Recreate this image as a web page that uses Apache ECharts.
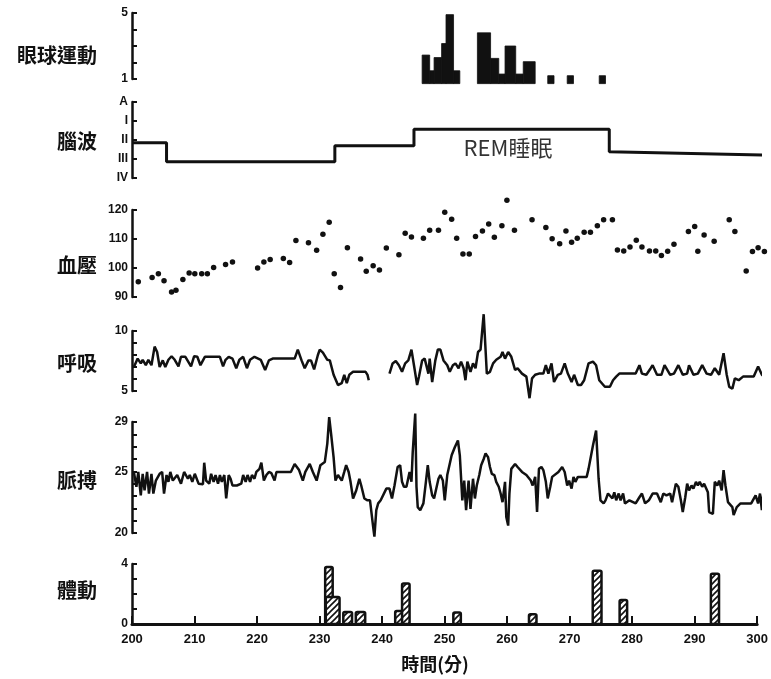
<!DOCTYPE html>
<html>
<head>
<meta charset="utf-8">
<title>睡眠經過</title>
<script src="https://cdn.jsdelivr.net/npm/echarts@6/dist/echarts.min.js"></script>
<style>
  html, body { margin: 0; padding: 0; background: #fff; }
  #chart { width: 771px; height: 679px; }
</style>
</head>
<body>
<div id="chart"></div>
<script>
// panel names, top to bottom
var panelNames = ['眼球運動', '腦波', '血壓', '呼吸', '脈搏', '體動'];
var brainLevels = ['IV', 'III', 'II', 'I', 'A'];   // 0..4 on the y axis
var xTitle = '時間(分)';
var remLabel = 'REM睡眠';

// eye movements: [from min, to min, height]
var eyeBins = [
  [246.2, 247.4, 2.45], [247.4, 248.1, 1.5], [248.1, 249.3, 2.3], [249.3, 250.0, 3.15],
  [250.0, 251.2, 4.9], [251.2, 252.2, 1.5],
  [255.0, 257.1, 3.8], [257.1, 258.4, 2.25], [258.4, 259.4, 1.3], [259.4, 261.1, 3.0],
  [261.1, 262.3, 1.3], [262.3, 264.2, 2.05],
  [266.2, 267.2, 1.2], [269.3, 270.3, 1.2], [274.4, 275.4, 1.2]
];

// brain wave stage (A=4 ... IV=0)
var brainStage = [
  [200, 1.85], [205.5, 1.85], [205.5, 0.86], [232.3, 0.86], [232.3, 1.7], [244.9, 1.7],
  [244.9, 2.56], [276.0, 2.56], [276.0, 1.38], [301.8, 1.2]
];

// blood pressure
var bloodPressure = [
  [201.0, 95.3], [203.2, 96.7], [204.2, 98], [205.1, 95.6], [206.3, 91.7], [207.0, 92.3],
  [208.1, 96], [209.1, 98.3], [210.0, 98], [211.1, 98], [212.0, 98], [213.0, 100.2],
  [214.9, 101.2], [216.0, 102.1], [220.0, 100], [221.0, 102.1], [222.0, 102.9], [224.1, 103.3],
  [225.1, 101.9], [226.1, 109.5], [228.1, 108.7], [229.4, 106.1], [230.4, 111.6], [231.4, 115.8],
  [232.2, 98], [233.2, 93.3], [234.3, 107], [236.4, 103.1], [237.3, 98.9], [238.4, 100.8],
  [239.4, 99.3], [240.5, 106.9], [242.5, 104.6], [243.5, 112], [244.5, 110.7], [246.4, 110.3],
  [247.4, 113], [248.8, 113], [249.8, 119.2], [250.9, 116.8], [251.7, 110.3], [252.7, 104.8],
  [253.7, 104.8], [254.7, 110.9], [255.8, 112.8], [256.8, 115.2], [257.7, 110.6], [258.9, 114.6],
  [259.7, 123.4], [260.9, 113], [263.7, 116.6], [265.9, 114], [266.9, 110.1], [268.1, 108.4],
  [269.1, 112.8], [270.0, 108.9], [270.9, 110.3], [272.0, 112.3], [273.0, 112.3], [274.1, 114.6],
  [275.1, 116.6], [276.5, 116.6], [277.3, 106.2], [278.3, 105.9], [279.3, 107.2], [280.3, 109.6],
  [281.2, 107.2], [282.4, 105.9], [283.4, 105.9], [284.3, 104.3], [285.3, 105.8], [286.3, 108.2],
  [288.6, 112.6], [289.6, 114.3], [290.1, 105.8], [291.1, 111.4], [292.7, 109.2], [295.1, 116.6],
  [296.0, 112.6], [297.8, 99.0], [298.8, 105.7], [299.7, 107], [300.7, 105.7]
];

// respiration, recorded in two pieces
var respA = [
  [200.3, 7.0], [200.9, 7.7], [201.4, 7.3], [201.7, 7.6], [202.2, 7.15], [202.6, 7.6],
  [203.1, 7.15], [203.6, 8.7], [204.0, 8.25], [204.4, 7.0], [204.9, 7.55], [205.3, 7.0],
  [205.8, 7.6], [206.3, 7.9], [206.8, 7.6], [207.4, 7.05], [207.8, 7.85], [208.5, 7.85],
  [209.4, 7.05], [209.9, 7.9], [210.4, 7.85], [210.9, 7.15], [211.6, 7.85], [213.3, 7.85],
  [214.0, 7.85], [214.5, 7.05], [214.9, 7.6], [215.4, 7.85], [216.0, 7.7], [216.6, 6.9],
  [217.1, 7.6], [217.7, 7.85], [218.3, 6.9], [218.8, 7.6], [219.5, 7.85], [220.5, 7.6],
  [221.2, 6.75], [221.8, 7.55], [222.4, 7.7], [223.5, 7.7], [225.9, 7.7], [226.4, 8.45],
  [227.0, 7.55], [227.5, 6.9], [228.1, 7.55], [228.5, 7.55], [229.0, 6.8], [229.6, 8.0],
  [229.9, 8.45], [230.4, 8.2], [231.1, 7.6], [231.5, 7.55], [232.1, 6.35], [232.8, 5.5],
  [233.4, 5.65], [233.8, 6.35], [234.2, 5.65], [234.6, 6.35], [235.2, 6.6], [237.2, 6.6],
  [237.5, 6.35], [237.7, 5.9]
];
var respB = [
  [241.0, 6.45], [241.5, 7.3], [242.0, 7.5], [242.5, 7.15], [243.0, 6.6], [243.5, 7.3],
  [244.0, 7.55], [244.5, 8.45], [244.9, 7.15], [245.4, 5.5], [245.7, 6.2], [246.2, 7.55],
  [246.6, 7.7], [246.9, 7.55], [247.2, 6.45], [247.4, 7.7], [247.8, 5.75], [248.3, 7.55],
  [248.7, 8.45], [249.1, 8.45], [249.6, 7.55], [250.2, 7.15], [250.6, 6.6], [251.1, 7.15],
  [251.5, 7.3], [252.0, 6.9], [252.4, 7.45], [252.8, 6.9], [253.1, 5.9], [253.4, 7.45],
  [253.9, 6.6], [254.3, 7.3], [254.7, 6.9], [255.1, 8.25], [255.5, 8.45], [256.0, 11.4],
  [256.5, 6.45], [257.0, 6.6], [257.5, 7.3], [258.0, 7.6], [258.7, 7.85], [259.0, 8.25],
  [259.4, 7.7], [259.9, 8.25], [260.4, 7.85], [261.0, 6.75], [261.4, 6.9], [262.1, 6.45],
  [262.8, 6.2], [263.3, 4.4], [263.7, 6.05], [264.2, 6.35], [264.8, 6.45], [265.5, 6.45],
  [265.9, 7.15], [266.3, 6.45], [266.8, 7.3], [267.2, 5.75], [267.8, 6.35], [268.3, 6.45],
  [268.9, 7.3], [269.4, 6.45], [270.0, 5.75], [270.4, 6.35], [271.0, 5.5], [271.5, 5.5],
  [272.0, 5.9], [272.7, 7.3], [273.4, 7.45], [273.9, 7.15], [274.4, 5.9], [275.3, 5.35],
  [276.1, 5.35], [276.6, 5.9], [277.1, 6.2], [277.6, 6.45], [278.2, 6.45], [280.2, 6.45],
  [280.8, 7.15], [281.2, 6.45], [281.9, 6.35], [282.6, 6.9], [282.9, 7.15], [283.6, 6.35],
  [284.3, 6.35], [284.8, 7.15], [285.7, 6.35], [286.3, 6.45], [287.0, 7.15], [287.7, 6.35],
  [288.4, 6.45], [288.7, 7.15], [289.4, 6.35], [290.1, 6.45], [290.8, 7.15], [291.5, 6.45],
  [292.2, 6.35], [292.8, 6.9], [293.5, 6.35], [294.2, 8.15], [294.7, 6.35], [295.1, 5.35],
  [295.6, 5.2], [296.0, 6.05], [296.6, 5.9], [297.3, 6.2], [299.0, 6.2], [299.7, 7.05],
  [300.3, 6.35], [300.7, 6.2]
];

// pulse
var pulse = [
  [200.3, 24.95], [200.7, 23.75], [201.0, 24.95], [201.4, 23.05], [201.7, 24.8], [202.0, 23.45],
  [202.4, 24.95], [202.7, 23.2], [203.1, 24.8], [203.4, 23.2], [203.8, 24.25], [204.1, 24.15],
  [204.4, 24.8], [204.8, 24.95], [205.1, 23.2], [205.5, 24.7], [205.8, 24.15], [206.1, 24.95],
  [206.5, 24.25], [206.8, 24.15], [207.2, 24.7], [207.8, 24.0], [208.3, 24.95], [208.9, 24.4],
  [209.2, 24.7], [209.6, 24.15], [210.0, 24.8], [210.6, 24.0], [211.3, 23.95], [211.5, 25.7],
  [211.8, 24.25], [212.3, 24.0], [212.6, 24.8], [213.0, 24.15], [213.3, 24.7], [213.7, 24.0],
  [214.0, 24.7], [214.3, 24.15], [214.7, 24.7], [215.0, 22.8], [215.4, 24.7], [215.7, 24.4],
  [216.0, 23.85], [216.7, 23.85], [217.4, 24.0], [217.7, 24.7], [218.1, 24.15], [218.4, 24.7],
  [218.8, 24.15], [219.1, 24.7], [219.5, 24.4], [219.8, 24.95], [220.3, 25.2], [220.6, 25.7],
  [221.0, 24.25], [221.4, 24.7], [221.8, 24.95], [222.2, 24.85], [222.7, 24.25], [223.0, 24.95],
  [223.5, 24.95], [225.3, 24.95], [225.9, 25.6], [226.6, 25.1], [227.2, 24.25], [227.6, 24.95],
  [228.3, 25.6], [228.8, 24.95], [229.4, 24.25], [230.0, 25.5], [230.7, 25.75], [231.1, 27.25],
  [231.4, 29.4], [231.7, 28.05], [232.1, 26.15], [232.4, 24.25], [232.8, 24.7], [233.1, 24.7],
  [233.4, 24.25], [233.8, 24.95], [234.1, 25.5], [234.5, 24.95], [234.8, 24.15], [235.2, 22.8],
  [235.7, 23.45], [236.2, 24.4], [236.5, 23.85], [237.0, 22.8], [237.5, 22.65], [237.9, 22.65],
  [238.4, 20.5], [238.6, 19.7], [238.9, 21.85], [239.2, 22.4], [239.6, 22.65], [239.9, 22.65],
  [240.5, 23.6], [241.0, 23.6], [241.4, 22.8], [241.8, 23.85], [242.3, 25.35], [242.7, 25.5],
  [243.0, 24.15], [243.3, 23.75], [243.7, 23.75], [244.2, 24.95], [244.5, 24.15], [244.7, 26.55],
  [245.1, 29.68], [245.3, 23.75], [245.5, 22.1], [245.9, 21.85], [246.4, 22.4], [246.8, 24.15],
  [247.1, 25.5], [247.4, 24.15], [247.8, 23.05], [248.1, 22.8], [248.8, 24.4], [249.1, 24.7],
  [249.5, 24.25], [249.8, 22.65], [250.2, 24.7], [250.5, 24.55], [250.9, 26.3], [251.4, 26.95],
  [251.9, 27.5], [252.2, 26.3], [252.6, 22.65], [252.9, 24.25], [253.2, 21.85], [253.6, 24.25],
  [253.9, 21.95], [254.3, 24.4], [254.6, 22.8], [254.9, 23.85], [255.3, 24.7], [255.6, 25.5],
  [256.0, 26.0], [256.3, 26.45], [256.7, 26.15], [257.0, 25.35], [257.3, 24.8], [257.7, 24.7],
  [258.0, 24.15], [258.4, 23.75], [258.7, 23.2], [259.0, 22.5], [259.4, 24.15], [259.6, 21.3],
  [259.9, 20.6], [260.1, 23.2], [260.4, 25.2], [261.0, 25.6], [261.4, 25.35], [262.1, 24.95],
  [262.8, 24.7], [263.5, 24.25], [263.8, 23.85], [264.2, 24.55], [264.5, 21.7], [264.8, 25.2],
  [265.2, 25.35], [265.5, 25.1], [265.9, 24.15], [266.2, 22.8], [266.6, 23.75], [266.9, 24.55],
  [267.2, 24.55], [267.9, 24.95], [268.5, 25.35], [268.9, 24.95], [269.3, 23.85], [269.6, 24.25],
  [270.0, 23.6], [270.3, 24.55], [270.6, 24.15], [271.0, 24.55], [272.4, 24.55], [272.7, 25.2],
  [273.4, 27.1], [273.9, 28.3], [274.3, 24.4], [274.6, 22.65], [275.1, 22.4], [275.4, 22.65],
  [275.8, 23.2], [276.1, 23.3], [276.5, 22.8], [276.8, 23.3], [277.1, 22.65], [277.5, 23.2],
  [277.8, 22.65], [278.2, 23.2], [278.5, 22.4], [279.2, 22.65], [280.2, 22.4], [280.8, 22.9],
  [281.2, 23.2], [281.7, 22.4], [282.3, 22.65], [282.9, 23.2], [283.6, 23.2], [284.2, 22.5],
  [284.6, 23.2], [285.1, 23.05], [285.7, 23.2], [286.0, 22.5], [286.6, 24.0], [287.0, 23.75],
  [287.4, 22.65], [287.7, 21.7], [288.1, 22.9], [288.4, 24.0], [288.7, 23.45], [289.1, 23.85],
  [289.4, 23.6], [289.8, 24.15], [290.1, 23.85], [290.4, 24.15], [290.8, 23.75], [291.1, 24.0],
  [291.7, 23.3], [291.9, 21.7], [292.5, 21.55], [292.8, 24.15], [293.2, 23.85], [293.5, 24.25],
  [293.9, 23.45], [294.2, 25.1], [294.5, 23.85], [294.9, 22.5], [295.6, 22.1], [295.8, 21.45],
  [296.3, 22.1], [296.9, 22.4], [298.6, 22.4], [299.3, 23.05], [299.7, 22.4], [300.0, 23.2],
  [300.3, 21.85], [300.5, 23.05]
];

// body movement: [from min, to min, height]
var bodyBins = [
  [230.9, 232.1, 3.8], [231.0, 233.2, 1.8], [233.8, 235.2, 0.8], [235.8, 237.3, 0.8],
  [242.1, 243.4, 0.87], [243.2, 244.4, 2.7], [251.4, 252.6, 0.77], [263.5, 264.7, 0.65],
  [273.7, 275.1, 3.55], [278.0, 279.2, 1.6], [292.6, 293.9, 3.35]
];

var black = '#111';
var font = 'Liberation Sans';

// diagonal hatch for the body movement bars
var hatch = document.createElement('canvas');
hatch.width = 6;
hatch.height = 6;
var hctx = hatch.getContext('2d');
hctx.fillStyle = '#fff';
hctx.fillRect(0, 0, 6, 6);
hctx.strokeStyle = '#111';
hctx.lineWidth = 1.6;
hctx.beginPath();
hctx.moveTo(0, 6); hctx.lineTo(6, 0);
hctx.moveTo(-1, 1); hctx.lineTo(1, -1);
hctx.moveTo(5, 7); hctx.lineTo(7, 5);
hctx.stroke();

var grids = [
  { top: 13, height: 66 },
  { top: 102, height: 76 },
  { top: 210, height: 87 },
  { top: 331, height: 60 },
  { top: 422, height: 111 },
  { top: 564, height: 60 }
];

function yAxis(i, min, max, step, formatter) {
  return {
    type: 'value', gridIndex: i, min: min, max: max, interval: step,
    axisLine: { show: true, lineStyle: { color: black, width: 2.5 } },
    axisTick: { show: true, inside: true, length: 5, lineStyle: { color: black, width: 2 } },
    splitLine: { show: false },
    axisLabel: {
      margin: 4, color: black, fontFamily: font, fontWeight: 'bold', fontSize: 12,
      formatter: formatter
    }
  };
}

function only(list) {
  return function (v) { return list.indexOf(v) >= 0 ? String(v) : ''; };
}

// rectangle from [t0, t1, v] down to a base value
function rectItem(base, radius, style) {
  return function (params, api) {
    var a = api.coord([api.value(0), api.value(2)]);
    var b = api.coord([api.value(1), base]);
    return {
      type: 'rect',
      shape: { x: a[0], y: a[1], width: b[0] - a[0], height: b[1] - a[1], r: radius },
      style: style
    };
  };
}

var xAxes = grids.map(function (g, i) {
  var last = i === grids.length - 1;
  return {
    type: 'value', gridIndex: i, min: 200, max: 300, interval: 10, show: last,
    axisLine: { lineStyle: { color: black, width: 3 } },
    axisTick: { inside: true, length: 8, lineStyle: { color: black, width: 2 } },
    splitLine: { show: false },
    axisLabel: { margin: 9, color: black, fontFamily: font, fontWeight: 'bold', fontSize: 13 }
  };
});

var titles = [55, 141, 265, 363, 480, 590].map(function (y, i) {
  return {
    type: 'text', x: 97, y: y,
    style: {
      text: panelNames[i], align: 'right', verticalAlign: 'middle',
      font: 'bold 20px "Noto Sans CJK TC"', fill: black
    }
  };
});

var option = {
  backgroundColor: '#fff',
  animation: false,
  grid: grids.map(function (g) {
    return { left: 132, right: 11, top: g.top, height: g.height };
  }),
  xAxis: xAxes,
  yAxis: [
    yAxis(0, 1, 5, 1, only([1, 5])),
    yAxis(1, 0, 4, 1, function (v) { return brainLevels[v]; }),
    yAxis(2, 90, 120, 10, only([90, 100, 110, 120])),
    yAxis(3, 5, 10, 1, only([5, 10])),
    yAxis(4, 20, 29, 1, only([20, 25, 29])),
    yAxis(5, 0, 4, 1, only([0, 4]))
  ],
  graphic: titles.concat([
    {
      type: 'text', x: 508, y: 148,
      style: {
        text: remLabel, align: 'center', verticalAlign: 'middle',
        font: '22px "Noto Sans CJK TC"', fill: '#333'
      }
    },
    {
      type: 'text', x: 435, y: 664,
      style: {
        text: xTitle, align: 'center', verticalAlign: 'middle',
        font: 'bold 18px "Noto Sans CJK TC"', fill: black
      }
    }
  ]),
  series: [
    {
      type: 'custom', xAxisIndex: 0, yAxisIndex: 0, clip: false,
      encode: { x: [0, 1], y: 2 },
      renderItem: rectItem(0.72, 0, { fill: black, stroke: black, lineWidth: 0.8 }),
      data: eyeBins
    },
    {
      type: 'line', xAxisIndex: 1, yAxisIndex: 1, clip: false, symbol: 'none',
      lineStyle: { color: black, width: 3 },
      data: brainStage
    },
    {
      type: 'scatter', xAxisIndex: 2, yAxisIndex: 2, clip: false,
      symbolSize: 5.5, itemStyle: { color: black, opacity: 1 },
      data: bloodPressure
    },
    {
      type: 'line', xAxisIndex: 3, yAxisIndex: 3, clip: false, symbol: 'none',
      lineStyle: { color: black, width: 2.5 },
      data: respA
    },
    {
      type: 'line', xAxisIndex: 3, yAxisIndex: 3, clip: false, symbol: 'none',
      lineStyle: { color: black, width: 2.5 },
      data: respB
    },
    {
      type: 'line', xAxisIndex: 4, yAxisIndex: 4, clip: false, symbol: 'none',
      lineStyle: { color: black, width: 2.5 },
      data: pulse
    },
    {
      type: 'custom', xAxisIndex: 5, yAxisIndex: 5, clip: false,
      encode: { x: [0, 1], y: 2 },
      renderItem: rectItem(0, 1.5, {
        fill: { image: hatch, repeat: 'repeat' },
        stroke: black, lineWidth: 2.5
      }),
      data: bodyBins
    }
  ]
};

var chart = echarts.init(document.getElementById('chart'));
chart.setOption(option);
</script>
</body>
</html>
